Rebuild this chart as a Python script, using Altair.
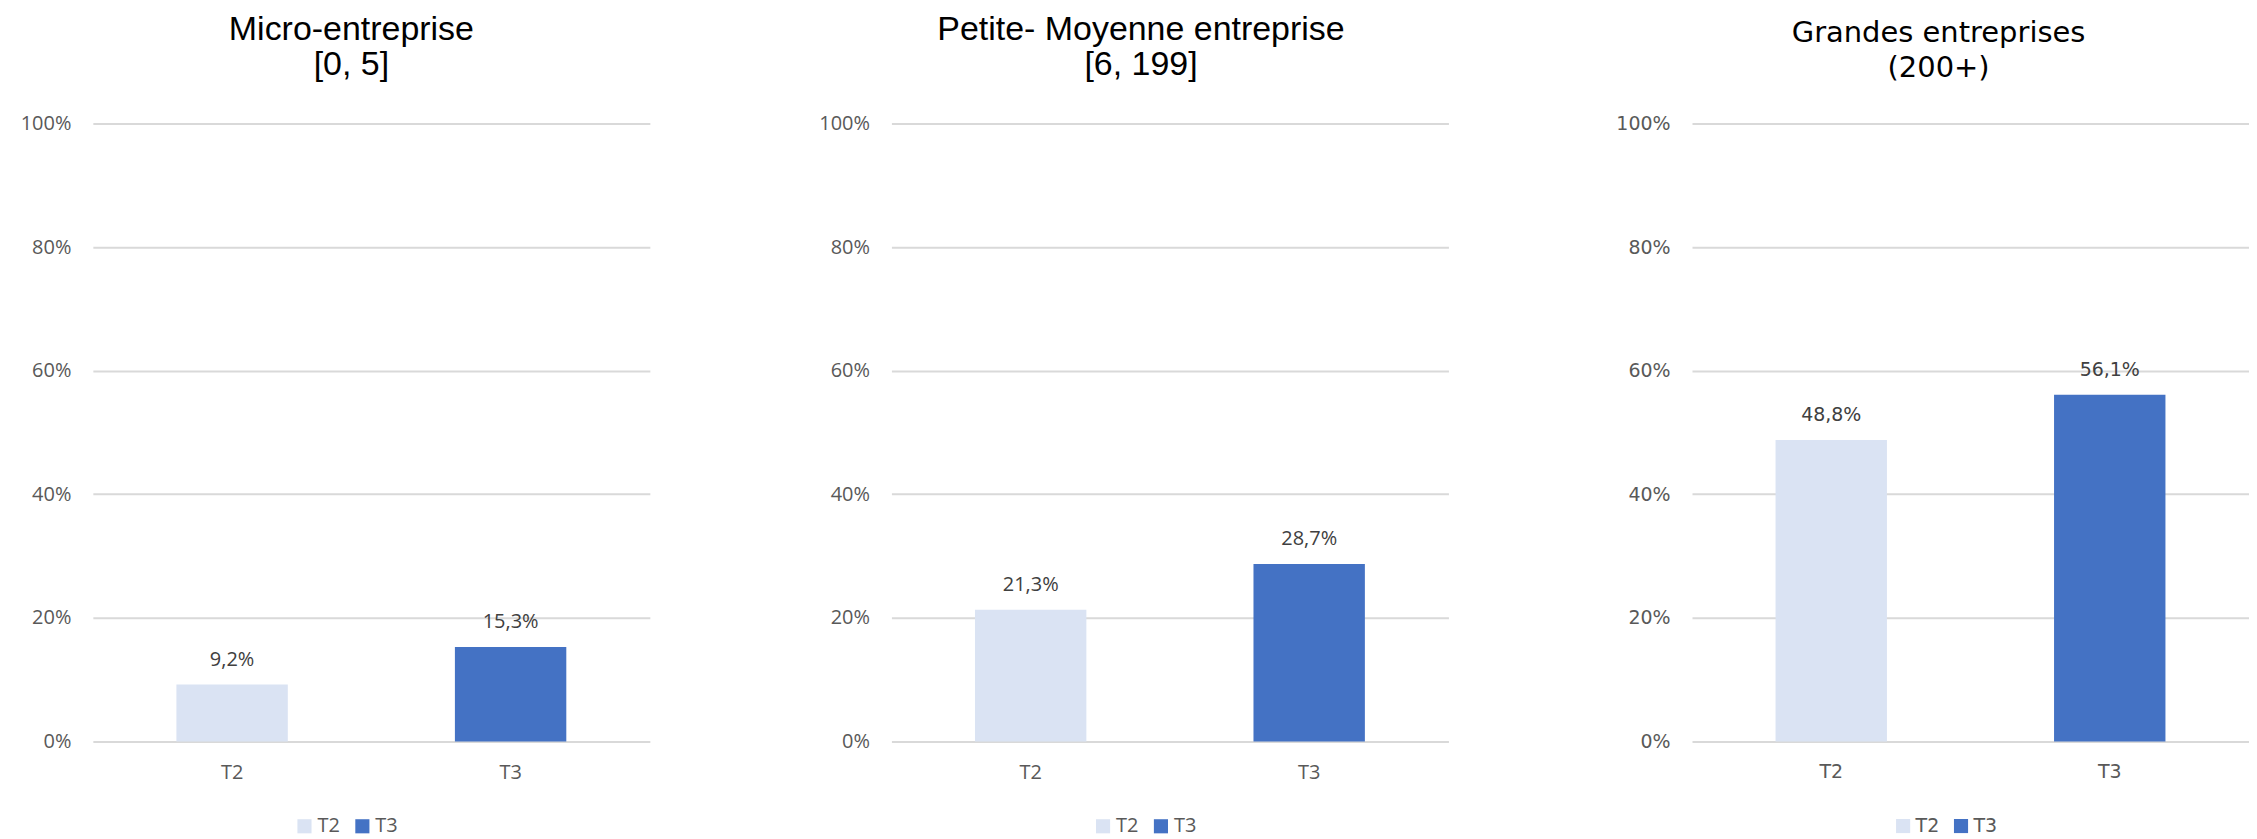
import altair as alt
import pandas as pd

periods = ["T2", "T3"]
titles_line1 = ["Micro-entreprise", "Petite- Moyenne entreprise", "Grandes entreprises"]
titles_line2 = ["[0, 5]", "[6, 199]", "(200+)"]
values_micro = [0.092, 0.153]
values_pme = [0.213, 0.287]
values_grandes = [0.488, 0.561]
labels_micro = ["9,2%", "15,3%"]
labels_pme = ["21,3%", "28,7%"]
labels_grandes = ["48,8%", "56,1%"]
y_ticks = [0, 0.2, 0.4, 0.6, 0.8, 1.0]
bar_colors = ["#dae3f3", "#4472c4"]

PANEL_W = 558
PANEL_H = 619


def panel(values, labels, line1, line2, title_font, body_font, title_size, body_size, title_dx):
    df = pd.DataFrame({"period": periods, "value": values, "label": labels})
    base = alt.Chart(df).encode(
        x=alt.X(
            "period:N",
            sort=periods,
            title=None,
            scale=alt.Scale(paddingInner=0.6, paddingOuter=0.3),
            axis=alt.Axis(
                labelAngle=0,
                domain=False,
                ticks=False,
                tickSize=0,
                labelPadding=21,
                labelFont=body_font,
                labelFontSize=body_size,
                labelColor="#595959",
                labelBaseline="top",
                grid=False,
            ),
        ),
        y=alt.Y(
            "value:Q",
            title=None,
            scale=alt.Scale(domain=[0, 1], nice=False),
            axis=alt.Axis(
                values=y_ticks,
                format=".0%",
                domain=False,
                ticks=False,
                tickSize=0,
                labelPadding=22,
                labelFont=body_font,
                labelFontSize=body_size,
                labelColor="#595959",
                gridColor="#d9d9d9",
                gridWidth=2,
                minExtent=75,
                maxExtent=75,
            ),
        ),
    )
    bars = base.mark_bar().encode(
        color=alt.Color(
            "period:N",
            sort=periods,
            scale=alt.Scale(domain=periods, range=bar_colors),
            legend=alt.Legend(
                title=None,
                orient="none",
                legendX=202,
                legendY=694,
                direction="horizontal",
                symbolType="square",
                symbolSize=200,
                symbolStrokeWidth=0,
                labelFont=body_font,
                labelFontSize=body_size,
                labelColor="#595959",
                columnPadding=12,
                symbolOffset=0,
                labelOffset=3,
            ),
        )
    )
    text = base.mark_text(
        dy=-19, baseline="alphabetic", font=body_font, fontSize=body_size, color="#404040"
    ).encode(text="label:N")
    return alt.layer(bars, text).properties(
        width=PANEL_W,
        height=PANEL_H,
        view=alt.ViewBackground(stroke="transparent", strokeWidth=0),
        title=alt.TitleParams(
            text=[line1, line2],
            font=title_font,
            fontSize=title_size,
            fontWeight="normal",
            color="#000000",
            lineHeight=35,
            anchor="middle",
            offset=32,
            dx=title_dx,
        ),
    )


p1 = panel(values_micro, labels_micro, titles_line1[0], titles_line2[0],
           "Liberation Sans", "Open Sans", 34, 20, -20)
p2 = panel(values_pme, labels_pme, titles_line1[1], titles_line2[1],
           "Liberation Sans", "Open Sans", 34, 20, -29)
p3 = panel(values_grandes, labels_grandes, titles_line1[2], titles_line2[2],
           "DejaVu Sans", "DejaVu Sans", 29, 19, -32)

chart = (
    alt.hconcat(p1, p2, p3, spacing=167)
    .resolve_legend(color="independent")
    .properties(padding={"left": 10, "top": 4, "right": 0, "bottom": 0})
    .configure_view(strokeWidth=0, stroke="transparent")
    .configure_axis(domain=False, ticks=False)
    .configure(background="white")
)

chart.save("out.html", embed_options={"renderer": "svg", "actions": False})
